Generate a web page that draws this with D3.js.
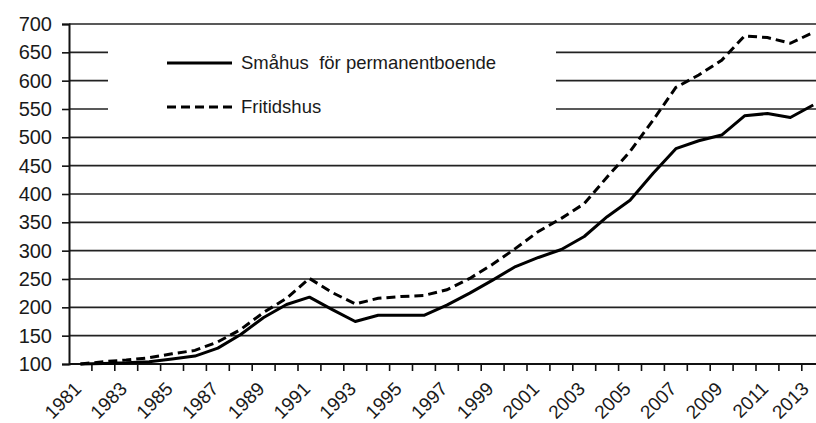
<!DOCTYPE html>
<html>
<head>
<meta charset="utf-8">
<script src="https://cdn.jsdelivr.net/npm/d3@7"></script>
<style>
  body { margin: 0; background: #fff; }
  svg { display: block; font-family: "Liberation Sans", Arial, sans-serif; }
</style>
</head>
<body>
<svg id="chart" width="816" height="423"></svg>
<script>
const years = d3.range(1981, 2014);
const yTicks = [100, 150, 200, 250, 300, 350, 400, 450, 500, 550, 600, 650, 700];
const xTickLabels = years.filter(y => y % 2 === 1);

const smahus = [100, 101, 102, 104, 109, 114, 128, 152, 182, 205, 218, 196, 175, 186, 186, 186,
    204, 225, 248, 272, 288, 302, 325, 360, 389, 436, 480, 494, 504, 538, 542, 535, 557];
const fritidshus = [100, 104, 107, 111, 118, 124, 139, 161, 191, 216, 251, 226, 206, 216, 219, 221,
    231, 251, 276, 304, 334, 357, 383, 430, 475, 530, 588, 610, 636, 679, 676, 666, 685];

const seriesNames = ["Småhus  för permanentboende", "Fritidshus"];

const svg = d3.select("#chart");
const plotLeft = 69, plotTop = 24, plotBottom = 364;
const bandW = 22.9;
const plotRight = plotLeft + bandW * years.length;

const x = d3.scaleBand()
    .domain(years)
    .range([plotLeft, plotRight])
    .padding(0);

const y = d3.scaleLinear()
    .domain([100, 700])
    .range([plotBottom, plotTop]);

// horizontal gridlines
svg.append("g")
    .selectAll("line")
    .data(yTicks)
    .enter().append("line")
    .attr("x1", plotLeft)
    .attr("x2", 816)
    .attr("y1", d => y(d))
    .attr("y2", d => y(d))
    .attr("stroke", "#222")
    .attr("stroke-width", 1.6);

// y axis
const yAxis = svg.append("g")
    .attr("transform", `translate(${plotLeft},0)`)
    .call(d3.axisLeft(y).tickValues(yTicks).tickSize(7).tickPadding(10));
yAxis.select(".domain").attr("stroke", "#111").attr("stroke-width", 2);
yAxis.selectAll(".tick line").attr("stroke", "#111").attr("stroke-width", 1.6);
yAxis.selectAll("text")
    .attr("fill", "#1a1a1a")
    .style("font-size", "20px");

// x axis, ticks between the categories
const xAxis = svg.append("g")
    .attr("transform", `translate(0,${plotBottom})`);
xAxis.append("line")
    .attr("x1", plotLeft).attr("x2", 816)
    .attr("stroke", "#111").attr("stroke-width", 2);
xAxis.selectAll(".tk")
    .data(years)
    .enter().append("line")
    .attr("class", "tk")
    .attr("x1", d => x(d) + x.bandwidth())
    .attr("x2", d => x(d) + x.bandwidth())
    .attr("y1", 0)
    .attr("y2", 7)
    .attr("stroke", "#111")
    .attr("stroke-width", 1.6);
xAxis.selectAll("text")
    .data(xTickLabels)
    .enter().append("text")
    .attr("transform", d => `translate(${Math.min(x(d) + x.bandwidth() / 2 + 2, 810)},${26}) rotate(-45)`)
    .attr("text-anchor", "end")
    .attr("fill", "#1a1a1a")
    .style("font-size", "19px")
    .text(d => d);

// legend box covers the gridlines
svg.append("rect")
    .attr("x", 108)
    .attr("y", 32)
    .attr("width", 448)
    .attr("height", 96)
    .attr("fill", "#fff");

const line = d3.line()
    .x((d, i) => x(years[i]) + x.bandwidth() / 2)
    .y(d => y(d));

svg.append("path")
    .datum(smahus)
    .attr("fill", "none")
    .attr("stroke", "#000")
    .attr("stroke-width", 3)
    .attr("stroke-linejoin", "round")
    .attr("d", line);

svg.append("path")
    .datum(fritidshus)
    .attr("fill", "none")
    .attr("stroke", "#000")
    .attr("stroke-width", 3)
    .attr("stroke-dasharray", "9,5")
    .attr("d", line);

// legend
const legend = svg.append("g");
const legendY = [63, 107];
legend.selectAll("line")
    .data(seriesNames)
    .enter().append("line")
    .attr("x1", 167)
    .attr("x2", 232)
    .attr("y1", (d, i) => legendY[i])
    .attr("y2", (d, i) => legendY[i])
    .attr("stroke", "#000")
    .attr("stroke-width", 3)
    .attr("stroke-dasharray", (d, i) => i === 1 ? "9,5" : null);
legend.selectAll("text")
    .data(seriesNames)
    .enter().append("text")
    .attr("x", 241)
    .attr("y", (d, i) => legendY[i] + 6)
    .attr("fill", "#1a1a1a")
    .style("font-size", "18.5px")
    .style("white-space", "pre")
    .text(d => d);
</script>
</body>
</html>
